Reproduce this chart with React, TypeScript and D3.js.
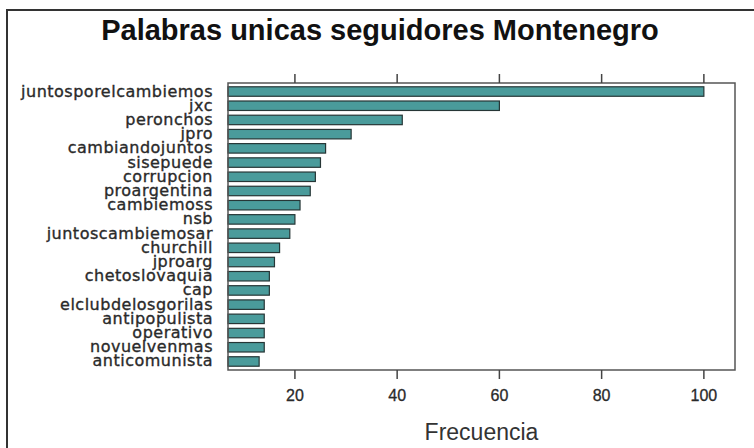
import React from 'react';
import * as d3 from 'd3';

const palabras = [
  'juntosporelcambiemos', 'jxc', 'peronchos', 'jpro', 'cambiandojuntos',
  'sisepuede', 'corrupcion', 'proargentina', 'cambiemoss', 'nsb',
  'juntoscambiemosar', 'churchill', 'jproarg', 'chetoslovaquia', 'cap',
  'elclubdelosgorilas', 'antipopulista', 'operativo', 'novuelvenmas', 'anticomunista',
];
const frecuencias = [100, 60, 41, 31, 26, 25, 24, 23, 21, 20, 19, 17, 16, 15, 15, 14, 14, 14, 14, 13];
const ticksX = [20, 40, 60, 80, 100];

const W = 754;
const H = 448;
const panel = { left: 228, right: 735, top: 83, bottom: 370 };

export default function App() {
  // lattice style limits: data range padded 7% on each side
  const lo = d3.min(frecuencias) as number;
  const hi = d3.max(frecuencias) as number;
  const pad = (hi - lo) * 0.07;
  const x = d3.scaleLinear().domain([lo - pad, hi + pad]).range([panel.left, panel.right]);
  const y = d3.scaleLinear().domain([0.4, palabras.length + 0.6]).range([panel.top, panel.bottom]);
  const barH = (y(2) - y(1)) * (2 / 3);

  return (
    <svg width={W} height={H} style={{ position: 'fixed', left: 0, top: 0, background: '#fff' }}>
      {/* marco de la imagen */}
      <path d={`M7,${H} V10 H${W}`} fill="none" stroke="#333" strokeWidth={2} />

      <text x={380} y={40} textAnchor="middle" fontFamily="Liberation Sans, Arial, sans-serif"
        fontWeight="bold" fontSize={29} fill="#111">
        Palabras unicas seguidores Montenegro
      </text>

      {frecuencias.map((v, i) => (
        <rect key={palabras[i]} x={x(lo - pad)} y={y(i + 1) - barH / 2}
          width={x(v) - x(lo - pad)} height={barH}
          fill="#4a9b9b" stroke="#263636" strokeWidth={1.2} />
      ))}

      {palabras.map((p, i) => (
        <text key={p} x={213} y={y(i + 1) + 5} textAnchor="end"
          fontFamily="DejaVu Sans, sans-serif" fontSize={16} letterSpacing={0.5}
          fill="#2a2a2a" stroke="#2a2a2a" strokeWidth={0.35}>
          {p}
        </text>
      ))}

      <rect x={panel.left} y={panel.top} width={panel.right - panel.left}
        height={panel.bottom - panel.top} fill="none" stroke="#555" strokeWidth={1.5} />

      {ticksX.map(t => (
        <g key={t}>
          <line x1={x(t)} x2={x(t)} y1={panel.top - 9} y2={panel.top} stroke="#444" strokeWidth={1.5} />
          <line x1={x(t)} x2={x(t)} y1={panel.bottom} y2={panel.bottom + 9} stroke="#444" strokeWidth={1.5} />
          <text x={x(t)} y={401} textAnchor="middle" fontFamily="Liberation Sans, Arial, sans-serif"
            fontSize={16} fill="#2a2a2a" stroke="#2a2a2a" strokeWidth={0.3}>{t}</text>
        </g>
      ))}

      <text x={(panel.left + panel.right) / 2} y={440} textAnchor="middle"
        fontFamily="Liberation Sans, Arial, sans-serif" fontSize={23} fill="#333">
        Frecuencia
      </text>
    </svg>
  );
}
